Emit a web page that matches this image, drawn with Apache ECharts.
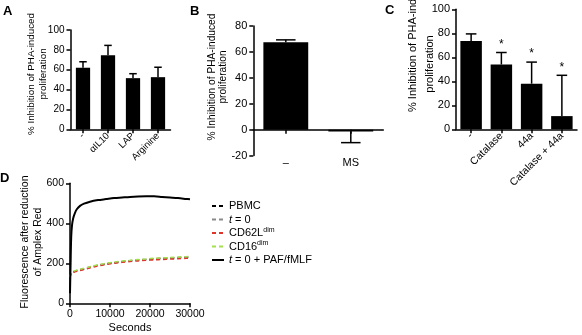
<!DOCTYPE html>
<html>
<head>
<meta charset="utf-8">
<script src="https://cdn.jsdelivr.net/npm/echarts@6/dist/echarts.min.js"></script>
<style>
  html, body { margin: 0; padding: 0; background: #fff; }
  #chart { width: 582px; height: 335px; }
</style>
</head>
<body>
<div id="chart"></div>
<script>
// Panel A: inhibition with blocking agents
const catA = ['-', 'αIL10', 'LAP', 'Arginine'];
const meanA = [62, 74.5, 51.5, 52.5];
const sdA = [6, 10, 4.5, 10];

// Panel B: medium vs MS
const catB = ['–', 'MS'];
const meanB = [67.5, -1.5];
const sdB = [1.8, 8.5];

// Panel C: catalase / 44a
const catC = ['-', 'Catalase', '44a', 'Catalase + 44a'];
const meanC = [73.5, 54, 38, 11];
const sdC = [6, 10, 18, 34];
const sigC = ['', '*', '*', '*'];

// Panel D: Amplex Red fluorescence over time
const timeD = [0, 150, 300, 500, 800, 1200, 1700, 2500, 3500, 5000, 7000, 9000,
  11000, 13000, 15000, 17000, 19000, 21000, 23000, 25000, 27000, 29000, 30000];
const pbmc  = [130, 145, 150, 153, 157, 160, 163, 167, 172, 180, 190, 197,
  203, 208, 212, 216, 219, 222, 224, 226, 228, 230, 231];
const t0    = [132, 146, 151, 154, 158, 161, 164, 168, 173, 181, 191, 198,
  204, 209, 213, 217, 220, 223, 225, 227, 229, 231, 232];
const cd62l = [126, 141, 147, 150, 154, 157, 160, 164, 169, 177, 187, 194,
  200, 205, 209, 212, 215, 217, 219, 221, 223, 225, 226];
const cd16  = [133, 147, 153, 156, 160, 163, 166, 170, 175, 183, 193, 200,
  206, 211, 215, 219, 222, 225, 227, 229, 231, 233, 234];
const t0Paf = [50, 200, 330, 390, 425, 450, 470, 487, 498, 508, 516, 521,
  526, 529, 532, 534, 535, 535, 532, 529, 526, 522, 520];

const FONT = "'Liberation Sans', Arial, Helvetica, sans-serif";
const chart = echarts.init(document.getElementById('chart'), null, { renderer: 'canvas' });

const axisLine = { show: true, onZero: true, lineStyle: { color: '#000', width: 1.5 } };
const axisTick = (len) => ({ show: true, length: len, lineStyle: { color: '#000', width: 1.5 } });

function errorBarItem(capRatio, marks) {
  return function (params, api) {
    const i = api.value(0);
    const m = api.value(1);
    const end = api.value(2);
    const base = api.coord([i, m]);
    const tip = api.coord([i, end]);
    const half = api.size([1, 0])[0] * capRatio / 2;
    const style = { stroke: '#000', lineWidth: 1.5 };
    const children = [
      { type: 'line', shape: { x1: base[0], y1: base[1], x2: tip[0], y2: tip[1] }, style },
      { type: 'line', shape: { x1: tip[0] - half, y1: tip[1], x2: tip[0] + half, y2: tip[1] }, style }
    ];
    if (marks && marks[params.dataIndex]) {
      children.push({
        type: 'text',
        style: {
          text: marks[params.dataIndex], x: tip[0], y: tip[1] - 2,
          align: 'center', verticalAlign: 'bottom',
          font: '12px ' + FONT, fill: '#000'
        }
      });
    }
    return { type: 'group', children };
  };
}

function errData(means, sds) {
  return means.map((m, i) => [i, m, m >= 0 ? m + sds[i] : m - sds[i]]);
}

function catAxis(idx, cats, fontSize, rotate, margin) {
  return {
    type: 'category', gridIndex: idx, data: cats,
    axisLine, axisTick: Object.assign(axisTick(4), { alignWithLabel: true }),
    axisLabel: { color: '#000', fontSize, fontFamily: FONT, rotate, margin, interval: 0 },
    splitLine: { show: false }
  };
}

function valAxis(idx, min, max, interval, fontSize) {
  return {
    type: 'value', gridIndex: idx, min, max, interval,
    axisLine, axisTick: axisTick(4),
    axisLabel: { color: '#000', fontSize, fontFamily: FONT, margin: 6 },
    splitLine: { show: false }
  };
}

// vertical axis titles (read bottom-to-top)
function vTitle(text, x, y, size, lh, align) {
  return {
    type: 'text', x, y, rotation: Math.PI / 2,
    style: {
      text, font: size + 'px ' + FONT, fill: '#000', lineHeight: lh,
      align: align || 'center', verticalAlign: 'middle'
    }
  };
}
function panelLetter(text, left, top) {
  return { type: 'text', left, top, style: { text, font: 'bold 13px ' + FONT, fill: '#000' } };
}

const legendNames = ['PBMC', 't = 0', 'CD62Ldim', 'CD16dim', 't = 0 + PAF/fMLF'];
const legendText = {
  'PBMC': '{n|PBMC}',
  't = 0': '{i|t}{n| = 0}',
  'CD62Ldim': '{n|CD62L}{s|dim}',
  'CD16dim': '{n|CD16}{s|dim}',
  't = 0 + PAF/fMLF': '{i|t}{n| = 0 + PAF/fMLF}'
};

function curve(name, values, color, width, type) {
  return {
    name, type: 'line', xAxisIndex: 3, yAxisIndex: 3,
    data: timeD.map((t, i) => [t, values[i]]),
    showSymbol: false, symbol: 'none', smooth: 0.3,
    lineStyle: { color, width, type },
    itemStyle: { color, opacity: 0 },
    animation: false
  };
}

const option = {
  animation: false,
  textStyle: { fontFamily: FONT },
  grid: [
    { left: 70.5, top: 30, width: 100, height: 99.3 },
    { left: 253.3, top: 26, width: 130, height: 129.6 },
    { left: 456, top: 9.3, width: 121, height: 120 },
    { left: 70, top: 183.3, width: 120, height: 120 }
  ],
  xAxis: [
    catAxis(0, catA, 9.5, 45, 5),
    catAxis(1, catB, 11, 0, 2),
    catAxis(2, catC, 10.5, 45, 5),
    {
      type: 'value', gridIndex: 3, min: 0, max: 30000, interval: 10000,
      axisLine, axisTick: axisTick(4),
      axisLabel: { color: '#000', fontSize: 10.5, fontFamily: FONT, margin: 5, formatter: (v) => String(v) },
      splitLine: { show: false },
      name: 'Seconds', nameLocation: 'middle', nameGap: 19,
      nameTextStyle: { color: '#000', fontSize: 11, fontFamily: FONT }
    }
  ],
  yAxis: [
    valAxis(0, 0, 100, 20, 10),
    valAxis(1, -20, 80, 20, 11),
    valAxis(2, 0, 100, 20, 11),
    valAxis(3, 0, 600, 200, 10.5)
  ],
  legend: {
    data: legendNames, orient: 'vertical', left: 211, top: 199.5, padding: 0,
    itemWidth: 12, itemHeight: 8, itemGap: 0.5, selectedMode: false,
    itemStyle: { opacity: 0 },
    formatter: (name) => legendText[name],
    textStyle: {
      color: '#000', fontSize: 11, fontFamily: FONT, lineHeight: 13,
      rich: {
        n: { fontSize: 11, lineHeight: 13, fontFamily: FONT, color: '#000' },
        i: { fontSize: 11, lineHeight: 13, fontStyle: 'italic', fontFamily: FONT, color: '#000' },
        s: { fontSize: 7, lineHeight: 13, verticalAlign: 'top', fontFamily: FONT, color: '#000' }
      }
    }
  },
  graphic: [
    panelLetter('A', 3, 5),
    panelLetter('B', 190, 5),
    panelLetter('C', 385, 4),
    panelLetter('D', 0, 172),
    vTitle('% Inhibition of PHA-induced\nproliferation', 37, 74, 9.8, 12.3),
    vTitle('% Inhibition of PHA-induced\nproliferation', 217.5, 77, 10.2, 11.6),
    vTitle('% Inhibition of PHA-induced', 413, 112, 11, 14, 'left'),
    vTitle('proliferation', 429.5, 64, 11, 14),
    vTitle('Fluorescence after reduction\nof Amplex Red', 31.7, 242, 10.5, 13.3)
  ],
  series: [
    { type: 'bar', xAxisIndex: 0, yAxisIndex: 0, data: meanA, barWidth: '57%', itemStyle: { color: '#000' } },
    { type: 'custom', xAxisIndex: 0, yAxisIndex: 0, data: errData(meanA, sdA), renderItem: errorBarItem(0.3), z: 5 },
    { type: 'bar', xAxisIndex: 1, yAxisIndex: 1, data: meanB, barWidth: '69%', itemStyle: { color: '#000' } },
    { type: 'custom', xAxisIndex: 1, yAxisIndex: 1, data: errData(meanB, sdB), renderItem: errorBarItem(0.3), z: 5 },
    { type: 'bar', xAxisIndex: 2, yAxisIndex: 2, data: meanC, barWidth: '71%', itemStyle: { color: '#000' } },
    { type: 'custom', xAxisIndex: 2, yAxisIndex: 2, data: errData(meanC, sdC), renderItem: errorBarItem(0.35, sigC), z: 5 },
    curve('PBMC', pbmc, '#000', 1.5, [4, 3]),
    curve('t = 0', t0, '#8a8a8a', 1.5, [4, 3]),
    curve('CD62Ldim', cd62l, '#e0342a', 1.5, [4, 3]),
    curve('CD16dim', cd16, '#a6e04e', 1.5, [4, 3]),
    curve('t = 0 + PAF/fMLF', t0Paf, '#000', 2, 'solid')
  ]
};

chart.setOption(option);
</script>
</body>
</html>
